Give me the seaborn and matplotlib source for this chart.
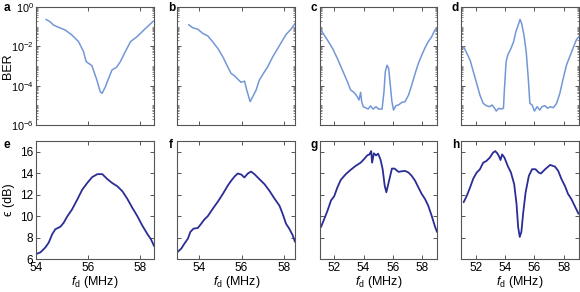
import numpy as np
import pandas as pd
import matplotlib
matplotlib.use("Agg")
import matplotlib.pyplot as plt
import seaborn as sns
from matplotlib.ticker import LogLocator, FixedLocator, NullFormatter

sns.set_style("ticks")
plt.rcParams['font.family'] = ['Liberation Sans', 'DejaVu Sans']
plt.rcParams['mathtext.fontset'] = 'custom'
plt.rcParams['mathtext.rm'] = 'Liberation Sans'
plt.rcParams['mathtext.it'] = 'Liberation Sans:italic'
plt.rcParams['mathtext.bf'] = 'Liberation Sans:bold'
plt.rcParams['text.color'] = 'black'
plt.rcParams['axes.labelcolor'] = 'black'

# ---------- data: top row (BER, log10) ----------
a_f = [54.38, 54.54, 54.67, 54.86, 55.12, 55.37, 55.63, 55.82, 55.92, 56.14, 56.33, 56.46, 56.53,
       56.65, 56.78, 56.91, 57.08, 57.23, 57.42, 57.62, 57.87, 58.13, 58.50]
a_logber = [-0.63, -0.75, -0.92, -1.03, -1.17, -1.42, -1.76, -2.27, -2.78, -2.98, -3.71, -4.31, -4.39,
            -4.08, -3.63, -3.20, -3.07, -2.78, -2.27, -1.76, -1.51, -1.17, -0.71]

b_f = [53.52, 53.72, 53.95, 54.19, 54.42, 54.65, 54.89, 55.12, 55.35, 55.51, 55.67, 55.82, 55.98, 56.14,
       56.24, 56.40, 56.56, 56.68, 56.83, 57.02, 57.22, 57.46, 57.69, 57.92, 58.08, 58.31, 58.50]
b_logber = [-0.90, -1.06, -1.13, -1.35, -1.47, -1.77, -2.11, -2.53, -3.04, -3.38, -3.50, -3.67, -3.83, -3.77,
            -4.22, -4.81, -4.48, -4.22, -3.72, -3.38, -3.04, -2.53, -2.11, -1.69, -1.40, -1.13, -0.84]

c_f = [51.10, 51.33, 51.55, 51.89, 52.22, 52.56, 52.90, 53.12, 53.35, 53.57, 53.69, 53.80, 53.87, 53.98,
       54.13, 54.31, 54.47, 54.65, 54.85, 55.03, 55.26, 55.39, 55.48, 55.60, 55.71, 55.82, 55.93, 56.04,
       56.20, 56.38, 56.61, 56.83, 57.06, 57.28, 57.51, 57.73, 57.96, 58.18, 58.40, 58.63, 58.85, 59.00]
c_logber = [-1.18, -1.44, -1.69, -2.11, -2.62, -3.21, -3.80, -4.22, -4.34, -4.56, -4.73, -4.34, -4.81, -5.07,
            -5.12, -5.19, -5.03, -5.19, -5.07, -5.19, -5.19, -4.31, -3.29, -2.96, -3.13, -3.97, -4.81, -5.24,
            -5.02, -4.98, -4.85, -4.81, -4.48, -3.97, -3.38, -2.87, -2.45, -2.08, -1.77, -1.52, -1.18, -1.06]

d_f = [51.18, 51.40, 51.62, 51.84, 52.07, 52.29, 52.51, 52.73, 52.96, 53.11, 53.29, 53.40, 53.56, 53.73,
       53.89, 53.96, 54.07, 54.18, 54.40, 54.58, 54.73, 54.89, 55.02, 55.13, 55.29, 55.44, 55.58, 55.69,
       55.84, 56.00, 56.18, 56.36, 56.51, 56.73, 56.89, 57.07, 57.29, 57.51, 57.73, 57.96, 58.18, 58.40,
       58.62, 58.84, 59.00]
d_logber = [-2.03, -2.36, -2.70, -3.29, -3.89, -4.48, -4.90, -5.02, -5.07, -4.98, -5.15, -5.29, -5.15, -5.19,
            -5.15, -4.14, -2.79, -2.45, -2.11, -1.77, -1.27, -0.93, -0.63, -0.84, -1.44, -2.28, -3.63, -4.90,
            -4.98, -5.29, -5.07, -5.24, -5.07, -5.02, -5.15, -5.07, -5.12, -4.90, -4.39, -3.63, -2.96, -2.53,
            -2.11, -1.69, -1.52]

# ---------- data: bottom row (epsilon, dB) ----------
e_f = [54.00, 54.17, 54.36, 54.49, 54.62, 54.74, 54.94, 55.06, 55.19, 55.38, 55.58, 55.77, 55.96, 56.15,
       56.35, 56.54, 56.73, 56.92, 57.12, 57.31, 57.50, 57.69, 57.88, 58.08, 58.27, 58.40, 58.53]
e_eps = [6.46, 6.62, 7.08, 7.54, 8.31, 8.77, 9.02, 9.38, 9.94, 10.62, 11.54, 12.46, 13.08, 13.63,
         13.91, 13.91, 13.45, 13.08, 12.77, 12.31, 11.60, 10.77, 10.00, 9.08, 8.31, 7.85, 7.17]

f_f = [53.02, 53.18, 53.33, 53.49, 53.60, 53.75, 53.95, 54.11, 54.26, 54.42, 54.65, 54.89, 55.12, 55.35,
       55.51, 55.67, 55.82, 55.98, 56.13, 56.29, 56.44, 56.60, 56.83, 57.07, 57.30, 57.53, 57.77, 57.92,
       58.08, 58.23, 58.39, 58.50]
f_eps = [6.68, 6.98, 7.45, 7.91, 8.52, 8.83, 8.89, 9.29, 9.69, 10.00, 10.68, 11.35, 12.06, 12.83,
         13.29, 13.69, 13.97, 13.88, 13.60, 13.97, 14.15, 13.91, 13.45, 12.98, 12.37, 11.66, 10.98, 10.22,
         9.29, 8.83, 8.22, 7.60]

g_f = [51.10, 51.33, 51.55, 51.78, 52.00, 52.22, 52.45, 52.79, 53.12, 53.46, 53.80, 54.02, 54.25, 54.40,
       54.52, 54.58, 54.70, 54.85, 54.99, 55.15, 55.30, 55.44, 55.55, 55.71, 55.93, 56.11, 56.38, 56.61,
       56.83, 57.06, 57.28, 57.51, 57.73, 57.96, 58.18, 58.40, 58.63, 58.85, 59.00]
g_eps = [8.98, 9.75, 10.52, 11.45, 11.85, 12.68, 13.38, 13.91, 14.31, 14.68, 14.98, 15.29, 15.66, 15.75,
         16.06, 14.98, 15.85, 15.66, 15.82, 15.29, 14.37, 12.83, 12.22, 13.14, 14.43, 14.43, 14.12, 14.18,
         14.21, 14.06, 13.75, 13.29, 12.68, 12.06, 11.60, 10.98, 10.06, 9.08, 8.52]

h_f = [51.18, 51.40, 51.62, 51.84, 52.07, 52.29, 52.51, 52.73, 52.96, 53.18, 53.33, 53.47, 53.58, 53.69,
       53.80, 53.96, 54.18, 54.40, 54.62, 54.78, 54.89, 55.00, 55.11, 55.24, 55.40, 55.62, 55.84, 56.07,
       56.29, 56.44, 56.73, 57.07, 57.40, 57.62, 57.84, 58.07, 58.29, 58.51, 58.73, 59.00]
h_eps = [11.29, 11.91, 12.68, 13.51, 14.06, 14.37, 14.98, 15.14, 15.45, 15.91, 16.06, 15.85, 15.60, 15.23,
         15.75, 15.45, 14.68, 14.06, 12.98, 11.14, 8.98, 8.06, 8.52, 10.37, 12.22, 13.75, 14.37, 14.37,
         14.06, 13.97, 14.37, 14.77, 14.61, 14.21, 13.45, 12.83, 12.06, 11.60, 10.98, 10.22]

top_letters = ['a', 'b', 'c', 'd']
bot_letters = ['e', 'f', 'g', 'h']
xlims = [(54, 58.5), (53, 58.5), (51, 59), (51, 59)]
xticks = [[54, 56, 58], [54, 56, 58], [52, 54, 56, 58], [52, 54, 56, 58]]
eps_ticks = [6, 8, 10, 12, 14, 16]
ber_ticks = [1e-6, 1e-4, 1e-2, 1e0]

top_data = [(a_f, a_logber), (b_f, b_logber), (c_f, c_logber), (d_f, d_logber)]
bot_data = [(e_f, e_eps), (f_f, f_eps), (g_f, g_eps), (h_f, h_eps)]

W, H = 580, 292
fig = plt.figure(figsize=(5.8, 2.92), dpi=100)
lefts = [36, 177.5, 319.5, 461]
aw = 117.5
top_rows = (7, 125)
bot_rows = (141, 259)

light = '#7397d6'
dark = '#2a2d94'
spine_c = '#555555'
fs = 8.5

def style(ax):
    for s in ax.spines.values():
        s.set_color(spine_c)
        s.set_linewidth(0.8)
    ax.tick_params(which='both', direction='in', top=True, right=True,
                   color=spine_c, labelcolor='black', labelsize=fs, pad=2)
    ax.tick_params(which='major', length=3, width=0.7)
    ax.tick_params(which='minor', length=1.6, width=0.5)

ylab_x = (14 - lefts[0]) / aw

for i in range(4):
    # top row
    x0 = lefts[i] / W
    ax = fig.add_axes([x0, 1 - top_rows[1] / H, aw / W, (top_rows[1] - top_rows[0]) / H])
    fx, lb = top_data[i]
    df = pd.DataFrame({'f': fx, 'ber': 10.0 ** np.array(lb)})
    sns.lineplot(data=df, x='f', y='ber', ax=ax, color=light, lw=1.1, sort=False, estimator=None)
    ax.set_yscale('log')
    ax.set_ylim(1e-6, 1)
    ax.set_xlim(*xlims[i])
    ax.set_xticks(xticks[i])
    ax.set_xticklabels([])
    ax.yaxis.set_major_locator(FixedLocator(ber_ticks))
    ax.yaxis.set_minor_locator(LogLocator(base=10, subs=np.arange(1, 10), numticks=20))
    ax.yaxis.set_minor_formatter(NullFormatter())
    ax.set_xlabel('')
    style(ax)
    if i == 0:
        ax.set_yticklabels(['$\\mathregular{10^{-6}}$', '$\\mathregular{10^{-4}}$',
                            '$\\mathregular{10^{-2}}$', '$\\mathregular{10^{0}}$'], fontsize=7.8)
        ax.tick_params(axis='y', pad=1.5)
        ax.set_ylabel('BER', fontsize=fs + 0.5)
        ax.yaxis.set_label_coords(ylab_x, 0.5)
    else:
        ax.set_yticklabels([])
        ax.set_ylabel('')
    lx = 4 if i == 0 else lefts[i] - 9
    fig.text(lx / W, 1 - 8 / H, top_letters[i], fontsize=fs, fontweight='bold',
             ha='left', va='center')

    # bottom row
    ax = fig.add_axes([x0, 1 - bot_rows[1] / H, aw / W, (bot_rows[1] - bot_rows[0]) / H])
    fx, ev = bot_data[i]
    df = pd.DataFrame({'f': fx, 'eps': ev})
    sns.lineplot(data=df, x='f', y='eps', ax=ax, color=dark, lw=1.3, sort=False, estimator=None)
    ax.set_ylim(6, 17)
    ax.set_xlim(*xlims[i])
    ax.set_xticks(xticks[i])
    ax.set_yticks(eps_ticks)
    ax.set_xlabel('$f_\\mathregular{d}$ (MHz)', fontsize=fs + 0.5, labelpad=0)
    style(ax)
    ax.tick_params(axis='x', pad=2.5)
    if i == 0:
        ax.set_ylabel('\u03f5 (dB)', fontsize=fs + 0.5)
        ax.yaxis.set_label_coords(ylab_x + 0.01, 0.5)
    else:
        ax.set_yticklabels([])
        ax.set_ylabel('')
    fig.text(lx / W, 1 - 145 / H, bot_letters[i], fontsize=fs, fontweight='bold',
             ha='left', va='center')

fig.savefig('out.png', dpi=100)
